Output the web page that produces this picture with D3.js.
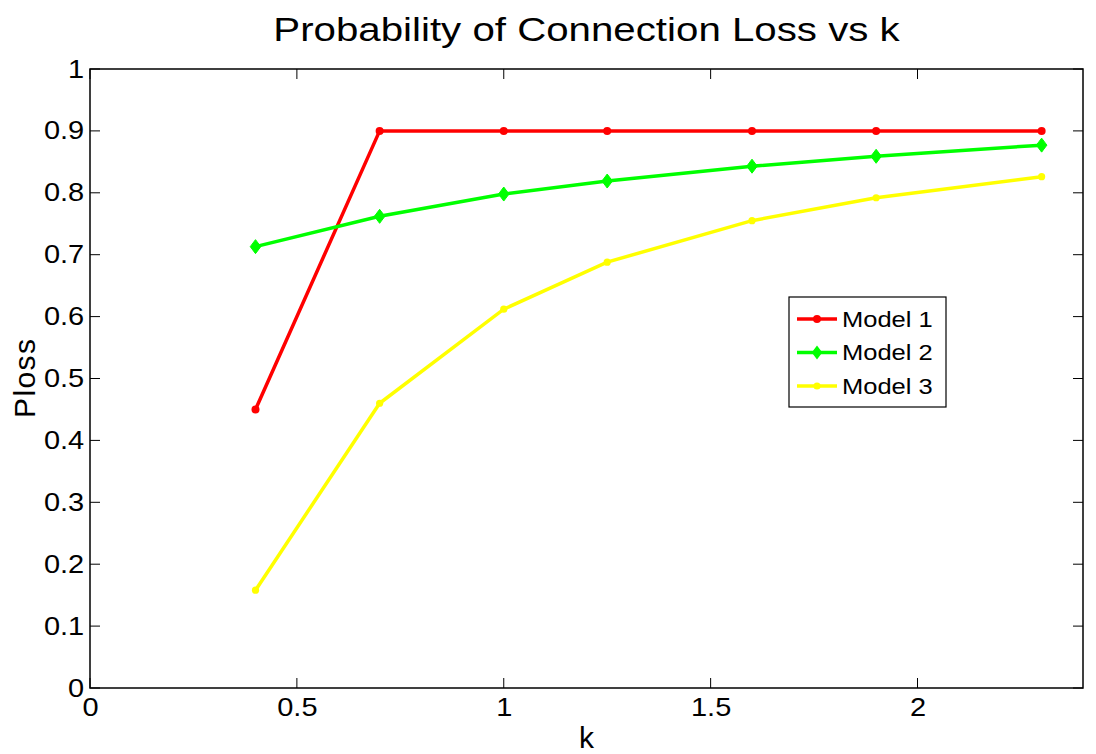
<!DOCTYPE html>
<html>
<head>
<meta charset="utf-8">
<script src="https://cdn.jsdelivr.net/npm/d3@7"></script>
<style>
  body { margin: 0; background: #fff; }
  svg { font-family: "Liberation Sans", Arial, sans-serif; }
</style>
</head>
<body>
<div id="chart"></div>
<script>
// data
const kValues = [0.4, 0.7, 1.0, 1.25, 1.6, 1.9, 2.3];
const model1 = [0.450, 0.900, 0.900, 0.900, 0.900, 0.900, 0.900];
const model2 = [0.713, 0.762, 0.798, 0.819, 0.843, 0.859, 0.877];
const model3 = [0.158, 0.460, 0.612, 0.688, 0.755, 0.792, 0.826];
const seriesNames = ['Model 1', 'Model 2', 'Model 3'];
const xTicks = [0, 0.5, 1, 1.5, 2];
const yTicks = [0, 0.1, 0.2, 0.3, 0.4, 0.5, 0.6, 0.7, 0.8, 0.9, 1];

const width = 1096, height = 754;
const margin = {top: 69, right: 13, bottom: 66, left: 90};
const innerW = width - margin.left - margin.right;
const innerH = height - margin.top - margin.bottom;

// the reference text is drawn a bit wide, so stretch it horizontally
const stretch = 1.16;

const series = [
  {name: seriesNames[0], values: model1, color: '#ff0000', marker: 'dot', r: 4},
  {name: seriesNames[1], values: model2, color: '#00ff00', marker: 'diamond', r: 7},
  {name: seriesNames[2], values: model3, color: '#ffff00', marker: 'dot', r: 3.6}
];

const svg = d3.select('#chart').append('svg')
  .attr('width', width).attr('height', height);

const x = d3.scaleLinear([0, 2.4], [0, innerW]);
const y = d3.scaleLinear([0, 1], [innerH, 0]);

const g = svg.append('g')
  .attr('transform', `translate(${margin.left},${margin.top})`);

// inward ticks on all four sides, matlab style
const tickLen = 10;
const tickStyle = sel => sel.attr('stroke', '#000').attr('stroke-width', 1);

g.append('g').call(d3.axisBottom(x).tickValues(xTicks).tickSize(0).tickPadding(10).tickFormat(d3.format('')))
  .attr('transform', `translate(0,${innerH})`)
  .call(a => a.select('.domain').remove())
  .call(a => a.selectAll('text').attr('font-size', 25).attr('fill', '#000')
    .attr('transform', `scale(${stretch},1)`));

g.append('g').call(d3.axisLeft(y).tickValues(yTicks).tickSize(0).tickPadding(5).tickFormat(d3.format('')))
  .call(a => a.select('.domain').remove())
  .call(a => a.selectAll('text').attr('font-size', 25).attr('fill', '#000')
    .attr('transform', `scale(${stretch},1)`));

const ticks = g.append('g');
xTicks.forEach(t => {
  ticks.append('line').attr('x1', x(t)).attr('x2', x(t)).attr('y1', innerH).attr('y2', innerH - tickLen).call(tickStyle);
  ticks.append('line').attr('x1', x(t)).attr('x2', x(t)).attr('y1', 0).attr('y2', tickLen).call(tickStyle);
});
yTicks.forEach(t => {
  ticks.append('line').attr('x1', 0).attr('x2', tickLen).attr('y1', y(t)).attr('y2', y(t)).call(tickStyle);
  ticks.append('line').attr('x1', innerW).attr('x2', innerW - tickLen).attr('y1', y(t)).attr('y2', y(t)).call(tickStyle);
});

g.append('rect')
  .attr('width', innerW).attr('height', innerH)
  .attr('fill', 'none').attr('stroke', '#000').attr('stroke-width', 1.5);

// lines + markers
const line = d3.line().x(d => x(d[0])).y(d => y(d[1]));
const diamond = r => `M0,${-r}L${r * 0.75},0L0,${r}L${-r * 0.75},0Z`;

series.forEach(s => {
  const pts = kValues.map((k, i) => [k, s.values[i]]);
  g.append('path').datum(pts)
    .attr('d', line)
    .attr('fill', 'none').attr('stroke', s.color).attr('stroke-width', 3.5);
  const m = g.selectAll(null).data(pts).join('g')
    .attr('transform', d => `translate(${x(d[0])},${y(d[1])})`);
  if (s.marker === 'diamond') {
    m.append('path').attr('d', diamond(s.r)).attr('fill', s.color).attr('stroke', s.color);
  } else {
    m.append('circle').attr('r', s.r).attr('fill', s.color);
  }
});

// legend
const legend = svg.append('g').attr('transform', 'translate(789,297)');
legend.append('rect').attr('width', 157).attr('height', 110)
  .attr('fill', '#fff').attr('stroke', '#000').attr('stroke-width', 1.2);
series.forEach((s, i) => {
  const row = legend.append('g').attr('transform', `translate(0,${22 + i * 33.5})`);
  row.append('line').attr('x1', 8).attr('x2', 48).attr('y1', 0).attr('y2', 0)
    .attr('stroke', s.color).attr('stroke-width', 3.5);
  if (s.marker === 'diamond') {
    row.append('path').attr('transform', 'translate(28,0)').attr('d', diamond(s.r)).attr('fill', s.color);
  } else {
    row.append('circle').attr('cx', 28).attr('r', s.r).attr('fill', s.color);
  }
  row.append('text').attr('transform', `translate(53,0)scale(${stretch},1)`).attr('dy', '0.35em')
    .attr('font-size', 22).text(s.name);
});

// titles
svg.append('text')
  .attr('transform', `translate(${margin.left + innerW / 2},41)scale(1.22,1)`)
  .attr('text-anchor', 'middle').attr('font-size', 33)
  .text('Probability of Connection Loss vs k');
svg.append('text').attr('x', margin.left + innerW / 2).attr('y', 748)
  .attr('text-anchor', 'middle').attr('font-size', 30).text('k');
svg.append('text').attr('transform', `translate(35,${margin.top + innerH / 2})rotate(-90)`)
  .attr('text-anchor', 'middle').attr('font-size', 30).attr('textLength', 79)
  .text('Ploss');
</script>
</body>
</html>
